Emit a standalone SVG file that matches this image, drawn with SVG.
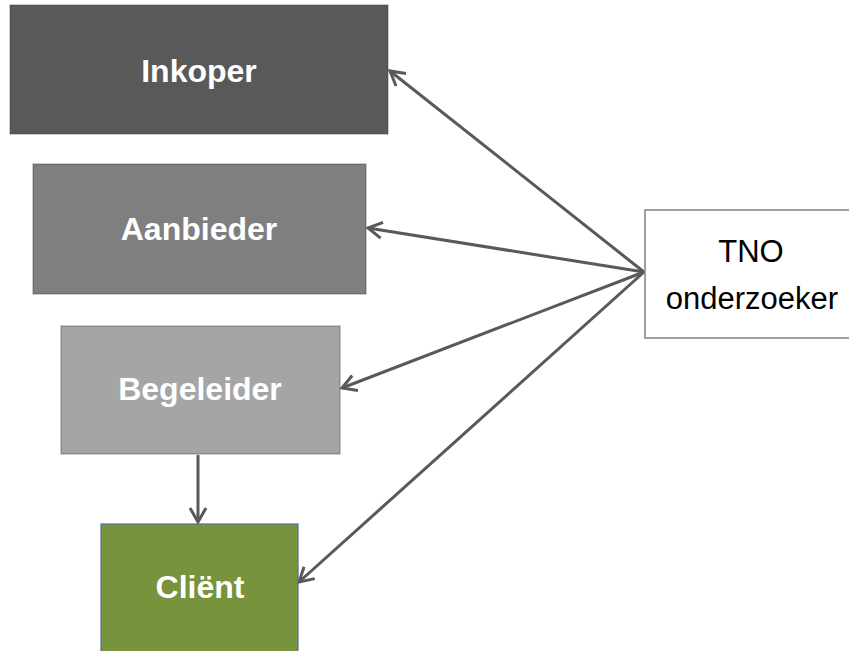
<svg xmlns="http://www.w3.org/2000/svg" width="849" height="651" viewBox="0 0 849 651">
<style>
.box{stroke:#404040;stroke-opacity:0.35;stroke-width:1.5}
.lbl{font-family:"Liberation Sans",Arial,sans-serif;font-weight:bold;font-size:32px;fill:#ffffff;text-anchor:middle}
.tno{font-family:"Liberation Sans",Arial,sans-serif;font-size:31px;fill:#000000;text-anchor:middle}
.conn{stroke:#595959;stroke-width:3;fill:none;marker-end:url(#arr)}
</style>
<defs>
<marker id="arr" markerUnits="userSpaceOnUse" viewBox="-16 -10 20 20" refX="0" refY="0" markerWidth="20" markerHeight="20" orient="auto">
<path d="M-14,-8 L0,0 L-14,8" fill="none" stroke="#595959" stroke-width="3" stroke-linejoin="miter"/>
</marker>
</defs>
<rect width="849" height="651" fill="#ffffff"/>
<g id="connectors">
<line class="conn" x1="644" y1="272" x2="390" y2="71"/>
<line class="conn" x1="644" y1="272" x2="368" y2="228"/>
<line class="conn" x1="644" y1="272" x2="342" y2="388"/>
<line class="conn" x1="644" y1="272" x2="299" y2="582"/>
<line class="conn" x1="198" y1="455" x2="198" y2="522"/>
</g>
<g id="inkoper">
<rect class="box" x="10" y="5" width="378" height="129" fill="#595959"/>
<text class="lbl" x="199" y="82">Inkoper</text>
</g>
<g id="aanbieder">
<rect class="box" x="33" y="164" width="333" height="130" fill="#7f7f7f"/>
<text class="lbl" x="199" y="240">Aanbieder</text>
</g>
<g id="begeleider">
<rect class="box" x="61" y="326" width="279" height="128" fill="#a5a5a5"/>
<text class="lbl" x="200" y="400">Begeleider</text>
</g>
<g id="client">
<rect x="101" y="524" width="197" height="140" fill="#77933c" stroke="#4f6fa0" stroke-width="1.2"/>
<text class="lbl" x="200" y="598">Cliënt</text>
</g>
<g id="tno">
<rect x="645" y="210" width="215" height="128" fill="#ffffff" stroke="#808080" stroke-width="1.5"/>
<text class="tno" x="751" y="262">TNO</text>
<text class="tno" x="752" y="309">onderzoeker</text>
</g>
</svg>
